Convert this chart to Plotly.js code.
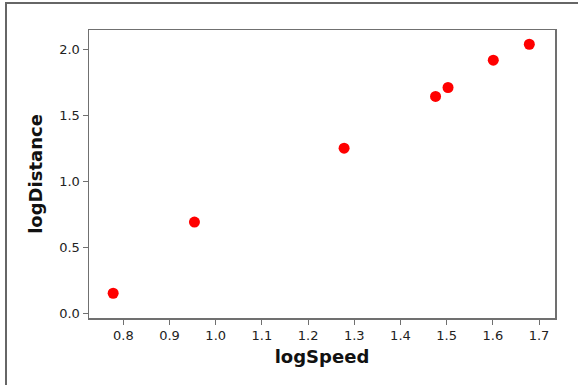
<!DOCTYPE html>
<html>
<head>
<meta charset="utf-8">
<script src="https://cdn.plot.ly/plotly-3.0.1.min.js"></script>
<style>
html,body{margin:0;padding:0;background:#fff;}
#wrap{position:relative;width:578px;height:385px;overflow:hidden;}
#chart{width:578px;height:385px;}
#frame{position:absolute;left:5px;top:2px;width:600px;height:420px;border-left:2px solid #666;border-top:2px solid #666;pointer-events:none;}
</style>
</head>
<body>
<div id="wrap"><div id="chart"></div><div id="frame"></div></div>
<script>
const logSpeed = [0.778, 0.954, 1.278, 1.476, 1.503, 1.601, 1.679];
const logDistance = [0.152, 0.692, 1.252, 1.644, 1.712, 1.919, 2.040];
const xTicks = [0.8, 0.9, 1.0, 1.1, 1.2, 1.3, 1.4, 1.5, 1.6, 1.7];
const yTicks = [0.0, 0.5, 1.0, 1.5, 2.0];

const trace = {
  x: logSpeed, y: logDistance, type: 'scatter', mode: 'markers',
  marker: {color: '#ff0000', size: 11}, hoverinfo: 'skip'
};
const axisCommon = {
  showline: true, linecolor: '#707070', linewidth: 1.5, mirror: true,
  ticks: 'outside', ticklen: 5, tickwidth: 1, tickcolor: '#707070',
  showgrid: false, zeroline: false, automargin: false,
  tickfont: {family: 'DejaVu Sans', size: 13, color: '#222'}
};
const layout = {
  width: 578, height: 385,
  margin: {l: 89, r: 23, t: 30, b: 67},
  paper_bgcolor: '#fff', plot_bgcolor: '#fff',
  showlegend: false,
  xaxis: Object.assign({}, axisCommon, {
    range: [0.7257, 1.7346], tickvals: xTicks,
    ticktext: xTicks.map(v => v.toFixed(1)),
    title: {text: 'logSpeed', font: {family: 'DejaVu Sans', size: 18, color: '#111', weight: 'bold'}, standoff: 8}
  }),
  yaxis: Object.assign({}, axisCommon, {
    range: [-0.0356, 2.148], tickvals: yTicks,
    ticktext: yTicks.map(v => v.toFixed(1)),
    title: {text: 'logDistance', font: {family: 'DejaVu Sans', size: 18, color: '#111', weight: 'bold'}, standoff: 12}
  })
};
Plotly.newPlot('chart', [trace], layout, {staticPlot: true, displayModeBar: false});
</script>
</body>
</html>
